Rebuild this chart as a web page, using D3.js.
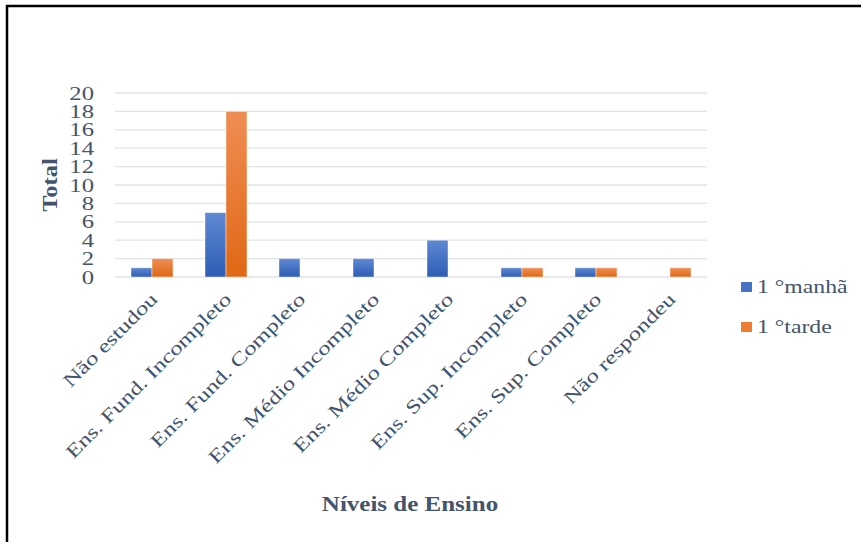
<!DOCTYPE html>
<html><head><meta charset="utf-8">
<script src="https://cdn.jsdelivr.net/npm/d3@7"></script>
<style>body{margin:0;background:#fff}svg{display:block}</style>
</head><body>
<script>
const categories = ["Não estudou","Ens. Fund. Incompleto","Ens. Fund. Completo","Ens. Médio Incompleto","Ens. Médio Completo","Ens. Sup. Incompleto","Ens. Sup. Completo","Não respondeu"];
const seriesNames = ["1 °manhã","1 °tarde"];
const manha = [1,7,2,2,4,1,1,0];
const tarde = [2,18,0,0,0,1,1,1];
const yTicks = [0,2,4,6,8,10,12,14,16,18,20];
const colors = ["#4472C4","#ED7D31"];

const W=861,H=542;
const svg=d3.select("body").append("svg").attr("width",W).attr("height",H);
const defs=svg.append("defs");
const g1=defs.append("linearGradient").attr("id","gb").attr("x1",0).attr("y1",0).attr("x2",0).attr("y2",1);
g1.append("stop").attr("offset",0).attr("stop-color","#5f88d2");
g1.append("stop").attr("offset",1).attr("stop-color","#2e5db5");
const g2=defs.append("linearGradient").attr("id","go").attr("x1",0).attr("y1",0).attr("x2",0).attr("y2",1);
g2.append("stop").attr("offset",0).attr("stop-color","#f08d54");
g2.append("stop").attr("offset",1).attr("stop-color","#e06815");
const fills=["url(#gb)","url(#go)"];

svg.append("rect").attr("x",0).attr("y",0).attr("width",W).attr("height",H).attr("fill","#fff");
svg.append("path").attr("d",`M7,${H} V6 H${W}`).attr("fill","none").attr("stroke","#000").attr("stroke-width",2.5);

const x=d3.scaleBand().domain(categories).range([115,707]);
const y=d3.scaleLinear().domain([0,20]).range([277,93]);
const barW=21;
const textColor="#44546A";
const font="'Liberation Serif','Times New Roman',serif";
const SX=1.3;

// gridlines
svg.append("g").selectAll("line").data(yTicks).join("line")
 .attr("x1",115).attr("x2",707).attr("y1",d=>y(d)).attr("y2",d=>y(d))
 .attr("stroke","#e0e3ea").attr("stroke-width",1.3);

// y tick labels
svg.append("g").selectAll("text").data(yTicks).join("text")
 .attr("transform",d=>`translate(94,${y(d)}) scale(${SX},1)`)
 .attr("text-anchor","end").attr("dy","0.35em")
 .attr("font-family",font).attr("font-size",19).attr("fill",textColor).text(d=>d);

// bars
const series=[manha,tarde];
series.forEach((vals,si)=>{
  svg.append("g").selectAll("rect").data(vals.map((v,i)=>({v,c:categories[i]})).filter(d=>d.v>0)).join("rect")
   .attr("x",d=>x(d.c)+x.bandwidth()/2-barW+si*barW)
   .attr("y",d=>y(d.v)).attr("width",barW).attr("height",d=>y(0)-y(d.v))
   .attr("fill",fills[si]).attr("stroke","rgba(255,255,255,0.45)").attr("stroke-width",1);
});

// x labels
svg.append("g").selectAll("text").data(categories).join("text")
 .attr("transform",d=>`translate(${x(d)+x.bandwidth()/2-3},291) rotate(-45) scale(${SX},1)`)
 .attr("text-anchor","end").attr("dy","0.7em")
 .attr("font-family",font).attr("font-size",19).attr("fill",textColor).text(d=>d);

// axis titles
svg.append("text").attr("transform","translate(57,185) rotate(-90) scale(1.22,1)").attr("text-anchor","middle")
 .attr("font-family",font).attr("font-size",20).attr("font-weight","bold").attr("fill",textColor).text("Total");
svg.append("text").attr("transform","translate(410,511) scale(1.25,1)").attr("text-anchor","middle")
 .attr("font-family",font).attr("font-size",20).attr("font-weight","bold").attr("fill",textColor).text("Níveis de Ensino");

// legend
const lg=svg.append("g");
seriesNames.forEach((n,i)=>{
  const yy=282+i*40;
  lg.append("rect").attr("x",741).attr("y",yy).attr("width",11).attr("height",10).attr("fill",colors[i]);
  lg.append("text").attr("transform",`translate(757,${yy+11}) scale(1.25,1)`).attr("font-family",font).attr("font-size",19).attr("fill",textColor).text(n);
});
</script>
</body></html>
